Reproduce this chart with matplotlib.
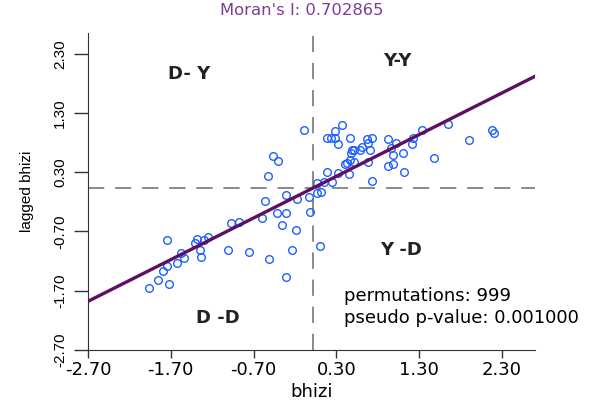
import numpy as np
import matplotlib
matplotlib.use("Agg")
import matplotlib.pyplot as plt

plt.rcParams['font.family'] = ['DejaVu Sans']

bhizi = [-0.09, -0.46, -0.41, -0.53, 0.19, 0.07, 0.25, 0.15, -0.56, -0.31,
         -0.17, -0.03, 0.07, 0.11, -0.42, -0.31, -0.02, -0.60, -0.97, -0.87,
         -0.36, -0.19, -1.74, -1.38, -1.25, -1.41, -1.30, 0.10, -1.35, -1.01,
         -0.75, -0.24, -1.58, -1.54, -1.33, -0.51, -1.62, -1.74, -1.79, -0.31,
         -1.86, -1.72, -1.96, 0.37, 0.29, 0.19, 0.24, 0.28, 0.32, 0.46,
         0.67, 0.73, 0.68, 0.92, 1.02, 1.23, 1.34, 1.65, 1.90, 2.18,
         2.21, 0.49, 0.51, 0.48, 0.61, 0.71, 0.59, 0.96, 1.22, 1.10,
         0.98, 0.47, 0.51, 0.43, 0.41, 0.68, 0.98, 0.92, 1.48, 1.12,
         0.32, 0.45, 0.73]
lagged_bhizi = [1.02, 0.57, 0.49, 0.23, 0.30, 0.12, 0.14, 0.14, -0.18, -0.08,
                -0.15, -0.11, -0.05, -0.03, -0.39, -0.39, -0.37, -0.48, -0.56, -0.54,
                -0.59, -0.68, -0.85, -0.82, -0.80, -0.90, -0.84, -0.94, -1.02, -1.02,
                -1.05, -1.02, -1.07, -1.14, -1.13, -1.16, -1.23, -1.28, -1.36, -1.47,
                -1.52, -1.59, -1.65, 1.10, 0.99, 0.88, 0.88, 0.88, 0.78, 0.88,
                0.86, 0.88, 0.79, 0.86, 0.80, 0.88, 1.02, 1.12, 0.85, 1.02,
                0.97, 0.67, 0.67, 0.63, 0.73, 0.67, 0.68, 0.71, 0.78, 0.63,
                0.59, 0.51, 0.48, 0.45, 0.44, 0.48, 0.44, 0.40, 0.54, 0.30,
                0.28, 0.27, 0.16]
morans_i = 0.702865
permutations = 999
p_value = 0.001
ticks = [-2.70, -1.70, -0.70, 0.30, 1.30, 2.30]
quadrants = ["D- Y", "Y-Y", "Y -D", "D -D"]

fig = plt.figure(figsize=(5.95, 4.07), dpi=100)
ax = fig.add_axes([0.148, 0.140, 0.751, 0.779])

x = np.array(bhizi)
y = np.array(lagged_bhizi)

# quadrant lines at the means
ax.axvline(0.02, color='#808080', lw=1.3, ls=(0, (9, 6)), zorder=1)
ax.axhline(0.03, color='#808080', lw=1.3, ls=(0, (9, 6)), zorder=1)

ax.plot(x, y, 'o', ms=5.5, mfc='none', mec='#1f5fff', mew=1.0, zorder=2)

# regression line, slope = Moran's I
xx = np.array([-2.7, 2.7])
ax.plot(xx, morans_i * xx + 0.02, color='#5e0f63', lw=2.4, zorder=3)

ax.set_xlim(-2.7, 2.7)
ax.set_ylim(-2.7, 2.65)
ax.set_xticks(ticks)
ax.set_yticks(ticks)
ax.set_xticklabels(["%.2f" % t for t in ticks], fontsize=13)
ax.set_yticklabels(["%.2f" % t for t in ticks], fontsize=11, rotation=90,
                   va='center', family='Liberation Sans')
ax.tick_params(width=1, color='#333333')
ax.tick_params(axis='x', length=6, pad=2)
ax.tick_params(axis='y', length=10, pad=5)
for s in ['top', 'right']:
    ax.spines[s].set_visible(False)
for s in ['left', 'bottom']:
    ax.spines[s].set_color('#333333')

ax.set_xlabel("bhizi", fontsize=13, labelpad=3)
ax.set_ylabel("lagged bhizi", fontsize=11, labelpad=14, family='Liberation Sans')
fig.text(0.507, 0.975, "Moran's I: %.6f" % morans_i, color='#7d3c98',
         fontsize=11.8, ha='center', va='center')

# quadrant labels
qx = [-1.48, 1.04, 1.08, -1.13]
qy = [1.95, 2.17, -1.02, -2.16]
for lab, a, b in zip(quadrants, qx, qy):
    ax.text(a, b, lab, fontsize=13, weight='bold', color='#222222',
            ha='center', va='center')

ax.text(0.39, -1.87, "permutations: %d" % permutations, fontsize=13, va='baseline')
ax.text(0.39, -2.25, "pseudo p-value: %.6f" % p_value, fontsize=13, va='baseline')

fig.savefig("out.png", dpi=100)
